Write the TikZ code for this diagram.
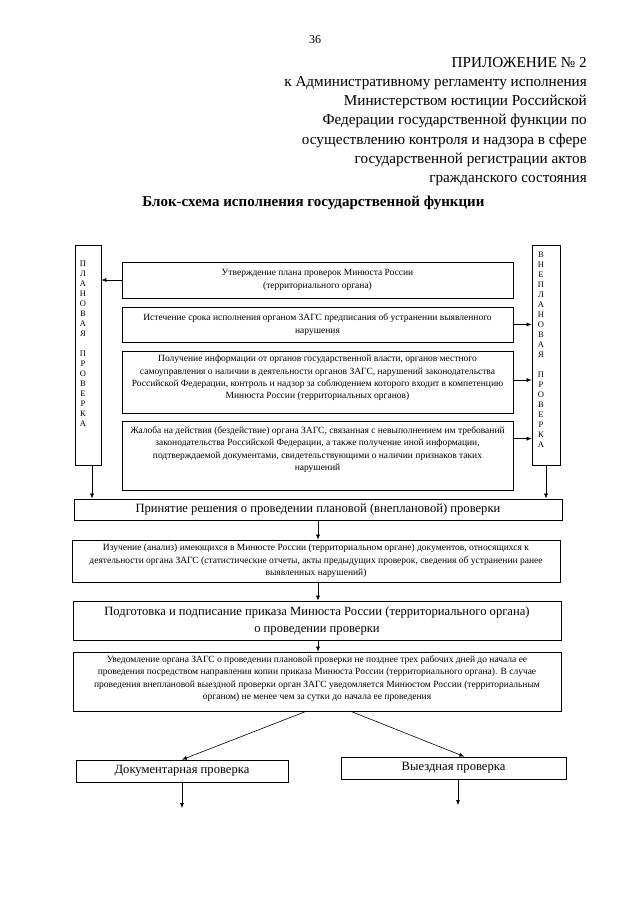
\documentclass[tikz,border=0pt]{standalone}
\usepackage{fontspec}
\setmainfont{Liberation Serif}
\usetikzlibrary{arrows.meta,calc}
\begin{document}
\begin{tikzpicture}[x=1pt,y=-1pt,
  box/.style={draw,line width=0.75pt,rectangle,inner sep=0pt,align=center},
  sm/.style={font=\fontsize{9.5}{12.4}\selectfont},
  bg/.style={font=\fontsize{12.6}{17}\selectfont},
  txt/.style={inner sep=0pt,align=center},
  arr/.style={-{Latex[length=5pt,width=4pt]},line width=0.6pt},
  vert/.style={font=\fontsize{8.5}{10}\selectfont,align=center,inner sep=0pt}]
\useasboundingbox (0,0) rectangle (640,905);
\fill[white] (0,0) rectangle (640,905);

% header
\node[txt,font=\fontsize{12}{14}\selectfont] (pg) at (315,40) {36};
\node[inner sep=0pt,align=right,anchor=north east,font=\fontsize{15.2}{19.2}\selectfont] (hdr) at (587,57)
 {ПРИЛОЖЕНИЕ № 2\\
  к Административному регламенту исполнения\\
  Министерством юстиции Российской\\
  Федерации государственной функции по\\
  осуществлению контроля и надзора в сфере\\
  государственной регистрации актов\\
  гражданского состояния};
\node[txt,font=\fontsize{15}{18}\selectfont\bfseries] (ttl) at (313.5,203) {Блок-схема исполнения государственной функции};

% side boxes
\node[box,minimum width=26pt,minimum height=220pt] (L) at (88,355) {};
\node[vert] (Lt) at (83,344) {П\\Л\\А\\Н\\О\\В\\А\\Я\\~\\П\\Р\\О\\В\\Е\\Р\\К\\А};
\node[box,minimum width=28pt,minimum height=220pt] (R) at (546,355) {};
\node[vert] (Rt) at (541,349.5) {В\\Н\\Е\\П\\Л\\А\\Н\\О\\В\\А\\Я\\~\\П\\Р\\О\\В\\Е\\Р\\К\\А};

% source boxes
\node[box,sm,minimum width=391pt,minimum height=36pt] (b1) at (317.5,280)
 {Утверждение плана проверок Минюста России\\(территориального органа)};
\node[box,sm,minimum width=391pt,minimum height=35pt] (b2) at (317.5,324.5)
 {Истечение срока исполнения органом ЗАГС предписания об устранении выявленного\\нарушения};
\node[box,minimum width=391pt,minimum height=62pt] (b3) at (317.5,382) {};
\node[txt,sm] (b3t) at (317.5,378)
 {Получение информации от органов государственной власти, органов местного\\
  самоуправления о наличии в деятельности органов ЗАГС, нарушений законодательства\\
  Российской Федерации, контроль и надзор за соблюдением которого входит в компетенцию\\
  Минюста России (территориальных органов)};
\node[box,minimum width=391pt,minimum height=69pt] (b4) at (317.5,455.5) {};
\node[txt,sm] (b4t) at (317.5,449.5)
 {Жалоба на действия (бездействие) органа ЗАГС, связанная с невыполнением им требований\\
  законодательства Российской Федерации, а также получение иной информации,\\
  подтверждаемой документами, свидетельствующими о наличии признаков таких\\
  нарушений};

\coordinate (a3) at ($(b3.east)+(0,-2)$);
\coordinate (a4) at ($(b4.north east)+(0,18)$);
\draw[arr] (b1.west) -- (L.east |- b1.west);
\draw[arr] (b2.east) -- (R.west |- b2.east);
\draw[arr] (a3) -- (R.west |- a3);
\draw[arr] (a4) -- (R.west |- a4);

% main chain
\node[box,bg,minimum width=488pt,minimum height=21pt] (D) at (318,509.5)
 {Принятие решения о проведении плановой (внеплановой) проверки};
\node[box,sm,minimum width=488pt,minimum height=42pt] (S) at (316,561)
 {Изучение (анализ) имеющихся в Минюсте России (территориальном органе) документов, относящихся к\\
  деятельности органа ЗАГС (статистические отчеты, акты предыдущих проверок, сведения об устранении ранее\\
  выявленных нарушений)};
\node[box,bg,minimum width=488pt,minimum height=39pt] (P) at (317,620.5)
 {Подготовка и подписание приказа Минюста России (территориального органа)\\о проведении проверки};
\node[box,minimum width=488pt,minimum height=59pt] (N) at (317,681.5) {};
\node[txt,sm] (Nt) at (317,678.5)
 {Уведомление органа ЗАГС о проведении плановой проверки не позднее трех рабочих дней до начала ее\\
  проведения посредством направления копии приказа Минюста России (территориального органа). В случае\\
  проведения внеплановой выездной проверки орган ЗАГС уведомляется Минюстом России (территориальным\\
  органом) не менее чем за сутки до начала ее проведения};

\coordinate (l1) at ($(L.south)+(4,0)$);
\draw[arr] (l1) -- (l1 |- D.north);
\draw[arr] (R.south) -- (R.south |- D.north);
\draw[arr] (D.south) -- (D.south |- S.north);
\draw[arr] (S.south -| D.south) -- (D.south |- P.north);
\draw[arr] (P.south -| D.south) -- (D.south |- N.north);

% final boxes
\node[box,bg,minimum width=212pt,minimum height=22pt] (Dk) at (182,771) {Документарная проверка};
\node[box,bg,minimum width=225pt,minimum height=22pt] (V) at (453.5,768) {Выездная проверка};
\coordinate (n1) at (307,711);
\coordinate (n2) at (350,711);
\coordinate (v1) at ($(V.north)+(11,0)$);
\coordinate (v2) at ($(V.south)+(4.5,0)$);
\draw[arr] (n1) -- (Dk.north);
\draw[arr] (n2) -- (v1);
\coordinate (e1) at (182,808);
\coordinate (e2) at (458,805);
\draw[arr] (Dk.south) -- (e1);
\draw[arr] (v2) -- (e2);
\end{tikzpicture}
\end{document}
